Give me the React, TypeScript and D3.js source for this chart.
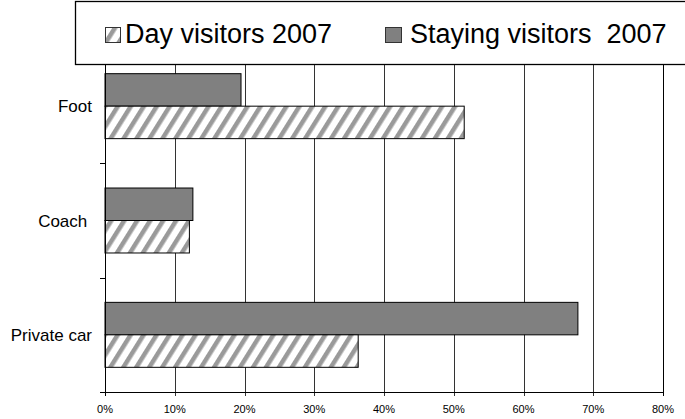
import React from 'react';
import * as d3 from 'd3';

// Values (percent of visitors)
const categories = ['Foot', 'Coach ', 'Private car'];
const seriesKeys = ['staying', 'day'];
const stayingVisitors = [19.5, 12.6, 67.8];
const dayVisitors = [51.5, 12.1, 36.3];
const xTicks = [0, 10, 20, 30, 40, 50, 60, 70, 80];
const legendLabels = ['Day visitors 2007', 'Staying visitors  2007'];

const W = 685;
const H = 419;
const margin = { top: 49, right: 22, bottom: 27, left: 105 };
const FONT = 'Liberation Sans, Arial, sans-serif';

const App = () => {
    const x = d3.scaleLinear()
        .domain([0, 80])
        .range([margin.left, W - margin.right]);

    const y = d3.scaleBand()
        .domain(categories)
        .range([margin.top, H - margin.bottom])
        .padding(0);

    // Two bars per category, Excel-style gap
    const ySub = d3.scaleBand()
        .domain(seriesKeys)
        .range([0, y.bandwidth()])
        .paddingInner(0)
        .paddingOuter(0.76);

    const x0 = x(0);
    const yBottom = H - margin.bottom;
    const yBounds = [margin.top, ...categories.map(c => (y(c) as number) + y.bandwidth())];

    return (
        <svg width={W} height={H} style={{ position: 'absolute', left: 0, top: 0, background: '#fff' }}>
            <defs>
                <pattern id="hatch" patternUnits="userSpaceOnUse" width="11" height="11" patternTransform="rotate(32)">
                    <rect width="11" height="11" fill="#fff" />
                    <rect x="0" width="4" height="11" fill="#9a9a9a" />
                    <rect x="4" width="1" height="11" fill="#c8c8c8" />
                </pattern>
            </defs>

            {/* vertical gridlines */}
            {xTicks.filter(t => t > 0).map(t => (
                <line key={`g${t}`} x1={Math.round(x(t)) + 0.5} x2={Math.round(x(t)) + 0.5}
                    y1={margin.top} y2={yBottom + 4} stroke={t === 80 ? '#000' : '#333'} strokeWidth={1} />
            ))}

            {/* bars */}
            {categories.map((c, i) => {
                const by = y(c) as number;
                return (
                    <g key={c}>
                        <rect x={x0} y={by + (ySub('staying') as number)}
                            width={x(stayingVisitors[i]) - x0} height={ySub.bandwidth()}
                            fill="#808080" stroke="#000" strokeWidth={1} />
                        <rect x={x0} y={by + (ySub('day') as number)}
                            width={x(dayVisitors[i]) - x0} height={ySub.bandwidth()}
                            fill="url(#hatch)" stroke="#000" strokeWidth={1} />
                    </g>
                );
            })}

            {/* axes */}
            <line x1={x0 - 4} x2={x(80) + 1} y1={yBottom + 0.5} y2={yBottom + 0.5} stroke="#000" />
            <line x1={x0 + 0.5} x2={x0 + 0.5} y1={margin.top} y2={yBottom + 4} stroke="#000" />
            {yBounds.map((b, i) => (
                <line key={`yt${i}`} x1={x0 - 5} x2={x0} y1={Math.round(b) + 0.5} y2={Math.round(b) + 0.5} stroke="#000" />
            ))}

            {xTicks.map(t => (
                <text key={`xl${t}`} x={x(t)} y={yBottom + 21} textAnchor="middle"
                    fontFamily={FONT} fontSize={11} fill="#000">{`${t}%`}</text>
            ))}

            {categories.map(c => (
                <text key={`cl${c}`} x={x0 - 13} y={(y(c) as number) + y.bandwidth() / 2 + 6}
                    textAnchor="end" fontFamily={FONT} fontSize={17} fill="#000"
                    style={{ whiteSpace: 'pre' }}>{c}</text>
            ))}

            {/* legend */}
            <rect x={75.5} y={1.5} width={640} height={63} fill="#fff" stroke="#000" strokeWidth={1.3} />
            <rect x={105.5} y={27.5} width={15} height={15} fill="url(#hatch)" stroke="#333" />
            <text x={125} y={43} fontFamily={FONT} fontSize={27} fill="#000">{legendLabels[0]}</text>
            <rect x={385.5} y={27.5} width={16} height={15} fill="#808080" stroke="#333" />
            <text x={410} y={43} fontFamily={FONT} fontSize={27} fill="#000" style={{ whiteSpace: 'pre' }}>{legendLabels[1]}</text>
        </svg>
    );
};

export default App;
